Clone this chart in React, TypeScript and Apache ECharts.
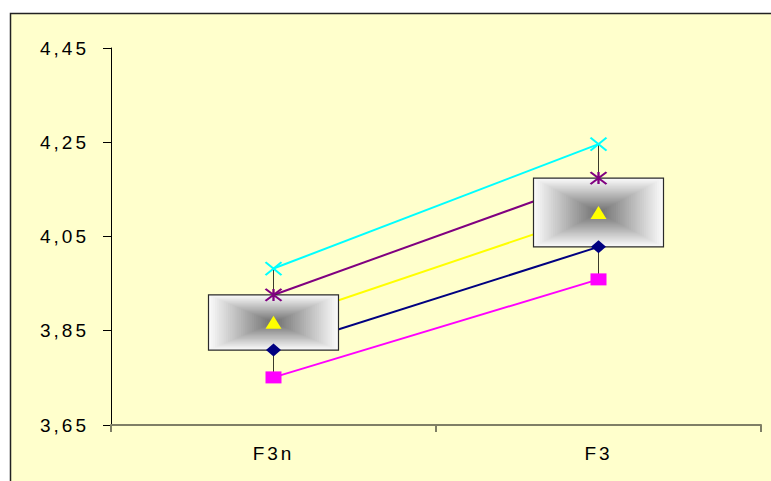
import React, { useEffect, useRef } from "react";
import * as echarts from "echarts";

const categories = ["F3n", "F3"];
const seriesMax = [3.982, 4.246]; // cyan X
const seriesQ3 = [3.926, 4.174]; // purple star
const seriesMean = [3.868, 4.101]; // yellow triangle
const seriesQ1 = [3.809, 4.028]; // navy diamond
const seriesMin = [3.751, 3.959]; // magenta square
const yTicks = [3.65, 3.85, 4.05, 4.25, 4.45];

const lineDefs = [
  { name: "max", data: seriesMax, color: "#00FFFF", symbol: "path://M0,0L16,13M16,0L0,13", size: [16, 13], stroke: true },
  { name: "q3", data: seriesQ3, color: "#800080", symbol: "path://M0,0L16,12M16,0L0,12M8,0L8,12", size: [16, 12], stroke: true },
  { name: "mean", data: seriesMean, color: "#FFFF00", symbol: "triangle", size: [16, 13], stroke: false },
  { name: "q1", data: seriesQ1, color: "#000080", symbol: "diamond", size: [15, 13], stroke: false },
  { name: "min", data: seriesMin, color: "#FF00FF", symbol: "rect", size: [16, 12], stroke: false },
];

function mix(t: number) {
  const a = 255;
  const b = 0x70;
  const v = Math.round(a + (b - a) * t);
  return `rgb(${v},${v},${v})`;
}

export default function App() {
  const ref = useRef<HTMLDivElement>(null);
  useEffect(() => {
    if (!ref.current) return;
    const chart = echarts.init(ref.current, undefined, { renderer: "svg" });
    const fmt = (v: number) => v.toFixed(2).replace(".", ",");
    const series: any[] = [];
    lineDefs.forEach((d) => {
      series.push({
        type: "line",
        name: d.name,
        z: 2,
        data: d.data,
        symbol: "none",
        lineStyle: { color: d.color, width: 2 },
        silent: true,
      });
    });
    series.push({
      type: "custom",
      name: "box",
      z: 3,
      silent: true,
      data: categories.map((c, i) => [i, seriesMin[i], seriesMax[i], seriesQ1[i], seriesQ3[i]]),
      encode: { x: 0, y: [1, 2, 3, 4] },
      renderItem: (params: any, api: any) => {
        const i = api.value(0);
        const pLo = api.coord([i, api.value(1)]);
        const pHi = api.coord([i, api.value(2)]);
        const pB = api.coord([i, api.value(3)]);
        const pT = api.coord([i, api.value(4)]);
        const band = api.size([1, 0])[0];
        const w = band * 0.4;
        const cx = pLo[0];
        const top = pT[1];
        const h = pB[1] - pT[1];
        const children: any[] = [
          {
            type: "line",
            shape: { x1: cx, y1: pHi[1], x2: cx, y2: pLo[1] },
            style: { stroke: "#3a3a2a", lineWidth: 1 },
          },
        ];
        const N = 30;
        for (let k = 0; k < N; k++) {
          const t = k / N;
          const rw = w * (1 - t);
          const rh = h * (1 - t);
          children.push({
            type: "rect",
            shape: { x: cx - rw / 2, y: top + h / 2 - rh / 2, width: rw, height: rh },
            style: { fill: mix(t + 1 / N) },
          });
        }
        children.push({
          type: "rect",
          shape: { x: cx - w / 2, y: top, width: w, height: h },
          style: { fill: "none", stroke: "#2a2a2a", lineWidth: 1.2 },
        });
        return { type: "group", children };
      },
    });
    lineDefs.forEach((d) => {
      series.push({
        type: "scatter",
        name: d.name + "-m",
        z: 4,
        data: d.data,
        symbol: d.symbol,
        symbolSize: d.size,
        symbolKeepAspect: false,
        itemStyle: d.stroke
          ? { color: "rgba(0,0,0,0)", borderColor: d.color, borderWidth: 2, opacity: 1 }
          : { color: d.color, borderWidth: 0, opacity: 1 },
        silent: true,
      });
    });

    chart.setOption({
      animation: false,
      backgroundColor: "#FFFFFF",
      graphic: [
        {
          type: "rect",
          z: -10,
          shape: { x: 10.5, y: 13.5, width: 800, height: 520 },
          style: { fill: "#FFFFCC", stroke: "#222222", lineWidth: 1.5 },
          silent: true,
        },
      ],
      grid: { left: 111, right: 10, top: 48, bottom: 56, containLabel: false },
      xAxis: {
        type: "category",
        data: categories,
        boundaryGap: true,
        axisLine: { lineStyle: { color: "#7f7f66", width: 2 } },
        axisTick: { show: true, length: 7, lineStyle: { color: "#7f7f66", width: 2 } },
        axisLabel: {
          margin: 19,
          color: "#000000",
          fontFamily: "'Liberation Sans', Arial, sans-serif",
          fontSize: 19,
        },
        splitLine: { show: false },
      },
      yAxis: {
        type: "value",
        min: 3.65,
        max: 4.45,
        axisLine: { show: true, lineStyle: { color: "#000000", width: 1 } },
        axisTick: { show: true, length: 8, customValues: yTicks, lineStyle: { color: "#000000", width: 1 } },
        axisLabel: {
          customValues: yTicks,
          formatter: (v: number) => fmt(v),
          margin: 22,
          color: "#000000",
          fontFamily: "'Liberation Sans', Arial, sans-serif",
          fontSize: 19,
        },
        splitLine: { show: false },
      },
      series,
    });
    return () => chart.dispose();
  }, []);
  return (
    <div
      ref={ref}
      style={{ position: "absolute", left: 0, top: 0, width: 771, height: 481, letterSpacing: "3px" }}
    />
  );
}
